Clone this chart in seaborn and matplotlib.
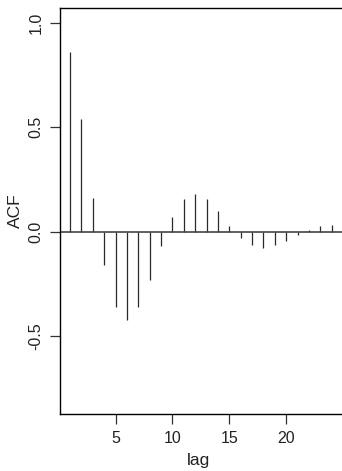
import numpy as np
import pandas as pd
import matplotlib
matplotlib.use('Agg')
import matplotlib.pyplot as plt
import seaborn as sns

# ACF 값 (lag 1 ~ 24)
lags = list(range(1, 25))
acf_vals = [0.858, 0.538, 0.161, -0.159, -0.362, -0.424, -0.362, -0.230,
            -0.070, 0.070, 0.156, 0.182, 0.156, 0.099, 0.029, -0.029,
            -0.065, -0.077, -0.065, -0.045, -0.014, 0.010, 0.027, 0.034]
xticks = [5, 10, 15, 20]
yticks = [-0.5, 0.0, 0.5, 1.0]

df = pd.DataFrame({'lag': lags, 'acf': acf_vals})

sns.set_theme(style='white')
plt.rcParams['font.family'] = ['Liberation Sans', 'DejaVu Sans']

fig = plt.figure(figsize=(3.42, 4.71), dpi=100)
ax = fig.add_axes([59.5 / 342, 57 / 471, (348 - 59.5) / 342, 406 / 471])

ax.vlines(df['lag'], 0, df['acf'], color='#2a2a2a', linewidth=0.9)
ax.axhline(0, color='#444444', linewidth=1.2)

ax.set_xlim(0.07, 25.44)
ax.set_ylim(-0.872, 1.07)
ax.set_xticks(xticks)
ax.set_yticks(yticks)
ax.set_yticklabels([f'{v:.1f}' for v in yticks], rotation=90, va='center')

for s in ax.spines.values():
    s.set_color('black')
    s.set_linewidth(1.0)

ax.tick_params(axis='both', direction='out', length=7.5, width=0.9,
               color='#333333', labelsize=11.5, labelcolor='#222222',
               left=True, bottom=True)
ax.tick_params(axis='x', pad=4.5)
ax.tick_params(axis='y', pad=4)

ax.set_xlabel('lag', fontsize=12.5, color='#222222')
ax.set_ylabel('ACF', fontsize=12.5, color='#222222')
ax.xaxis.set_label_coords((199 - 59.5) / (348 - 59.5), -(460 - 414) / 406, transform=ax.transAxes)
ax.yaxis.set_label_coords(-(59.5 - 15) / (348 - 59.5), 0.5, transform=ax.transAxes)
ax.xaxis.label.set_va('center')
ax.yaxis.label.set_va('center')

fig.savefig('out.png', dpi=100)
